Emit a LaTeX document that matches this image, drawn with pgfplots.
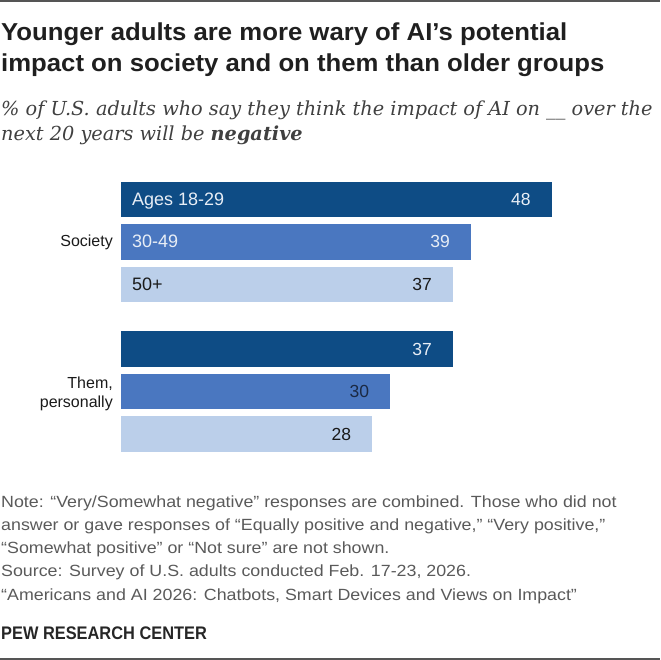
\documentclass[border=0pt]{standalone}
\usepackage{pgfplots}
\pgfplotsset{compat=1.18}
\usepackage{fontspec}
\setmainfont{Liberation Sans}
\newfontfamily\titlefont[FakeStretch=1.05]{Liberation Sans}
\newfontfamily\pewfont[FakeStretch=0.9]{Liberation Sans}
\newfontfamily\notefont[FakeStretch=1.1]{Liberation Sans}
\newfontfamily\subfont{DejaVu Serif}
\newfontfamily\labfont{Liberation Sans}
\definecolor{cDark}{HTML}{0E4C85}
\definecolor{cMid}{HTML}{4A77C0}
\definecolor{cLight}{HTML}{BBCFEA}
\definecolor{rulegray}{HTML}{555555}
\definecolor{notegray}{HTML}{5A5A5A}
\definecolor{lighttext}{HTML}{E8EEF6}
\definecolor{darktext}{HTML}{1A1A1A}
\definecolor{navytext}{HTML}{1B2A44}
\begin{document}
\begin{tikzpicture}[x=1pt,y=1pt]
\path[use as bounding box] (0,0) rectangle (660,-660);
\fill[rulegray] (0,0) rectangle (660,-2.5);
\fill[rulegray] (0,-657.5) rectangle (660,-660);
% title
\node[anchor=base west, inner sep=0, text=black!88, font=\titlefont\bfseries\fontsize{24.5}{28}\selectfont] at (1,-40.7) {Younger adults are more wary of AI’s potential};
\node[anchor=base west, inner sep=0, text=black!88, font=\titlefont\bfseries\fontsize{24.5}{28}\selectfont] at (1,-72) {impact on society and on them than older groups};
% subtitle
\node[anchor=base west, inner sep=0, text=black!75, font=\subfont\itshape\fontsize{19.3}{23}\selectfont] at (1,-116) {\% of U.S. adults who say they think the impact of AI on \_\_ over the};
\node[anchor=base west, inner sep=0, text=black!75, font=\subfont\itshape\fontsize{19.3}{23}\selectfont] at (1,-141) {next 20 years will be \textbf{negative}};
% category labels
\node[anchor=east, inner sep=0, text=darktext, font=\labfont\fontsize{16}{19}\selectfont] at (113,-242) {Society};
\node[anchor=base east, inner sep=0, text=darktext, font=\labfont\fontsize{16}{19}\selectfont] at (113,-388) {Them,};
\node[anchor=base east, inner sep=0, text=darktext, font=\labfont\fontsize{16}{19}\selectfont] at (113,-407) {personally};
\begin{axis}[
  at={(121pt,-660pt)}, anchor=south west,
  scale only axis, width=430.7pt, height=660pt,
  xmin=0, xmax=48, ymin=0, ymax=660, y dir=reverse,
  hide axis, clip=false,
  xbar, bar width=35.5,
  /pgf/number format/assume math mode=true,
  point meta=x,
  nodes near coords,
  every node near coord/.append style={anchor=east, inner sep=0pt, xshift=-21pt, font=\labfont\fontsize{17.5}{20}\selectfont},
]
\addplot[fill=cDark, draw=none, bar shift=0pt, every node near coord/.append style={text=lighttext}] coordinates {(48,199.3)};
\addplot[fill=cMid, draw=none, bar shift=0pt, every node near coord/.append style={text=lighttext}] coordinates {(39,241.9)};
\addplot[fill=cLight, draw=none, bar shift=0pt, every node near coord/.append style={text=darktext}] coordinates {(37,284.5)};
\addplot[fill=cDark, draw=none, bar shift=0pt, every node near coord/.append style={text=lighttext}] coordinates {(37,349.2)};
\addplot[fill=cMid, draw=none, bar shift=0pt, every node near coord/.append style={text=navytext}] coordinates {(30,391.5)};
\addplot[fill=cLight, draw=none, bar shift=0pt, every node near coord/.append style={text=darktext}] coordinates {(28,434.2)};
\node[anchor=base west, inner sep=0, text=lighttext, font=\labfont\fontsize{18}{20}\selectfont] at (axis cs:0,205.8) [xshift=11pt] {Ages 18-29};
\node[anchor=base west, inner sep=0, text=lighttext, font=\labfont\fontsize{18}{20}\selectfont] at (axis cs:0,247.8) [xshift=11pt] {30-49};
\node[anchor=base west, inner sep=0, text=darktext, font=\labfont\fontsize{18}{20}\selectfont] at (axis cs:0,290.8) [xshift=11pt] {50+};
\end{axis}
% notes
\begin{scope}[every node/.style={anchor=base west, inner sep=0, text=notegray, font=\notefont\fontsize{16.2}{19}\selectfont}]
\node at (1,-507.3) {Note: “Very/Somewhat negative” responses are combined. Those who did not};
\node at (1,-530.3) {answer or gave responses of “Equally positive and negative,” “Very positive,”};
\node at (1,-553.3) {“Somewhat positive” or “Not sure” are not shown.};
\node at (1,-576.6) {Source: Survey of U.S. adults conducted Feb. 17-23, 2026.};
\node at (1,-600) {“Americans and AI 2026: Chatbots, Smart Devices and Views on Impact”};
\end{scope}
\node[anchor=base west, inner sep=0, text=black!85, font=\pewfont\bfseries\fontsize{18.2}{20}\selectfont] at (1,-639) {PEW RESEARCH CENTER};
\end{tikzpicture}
\end{document}
